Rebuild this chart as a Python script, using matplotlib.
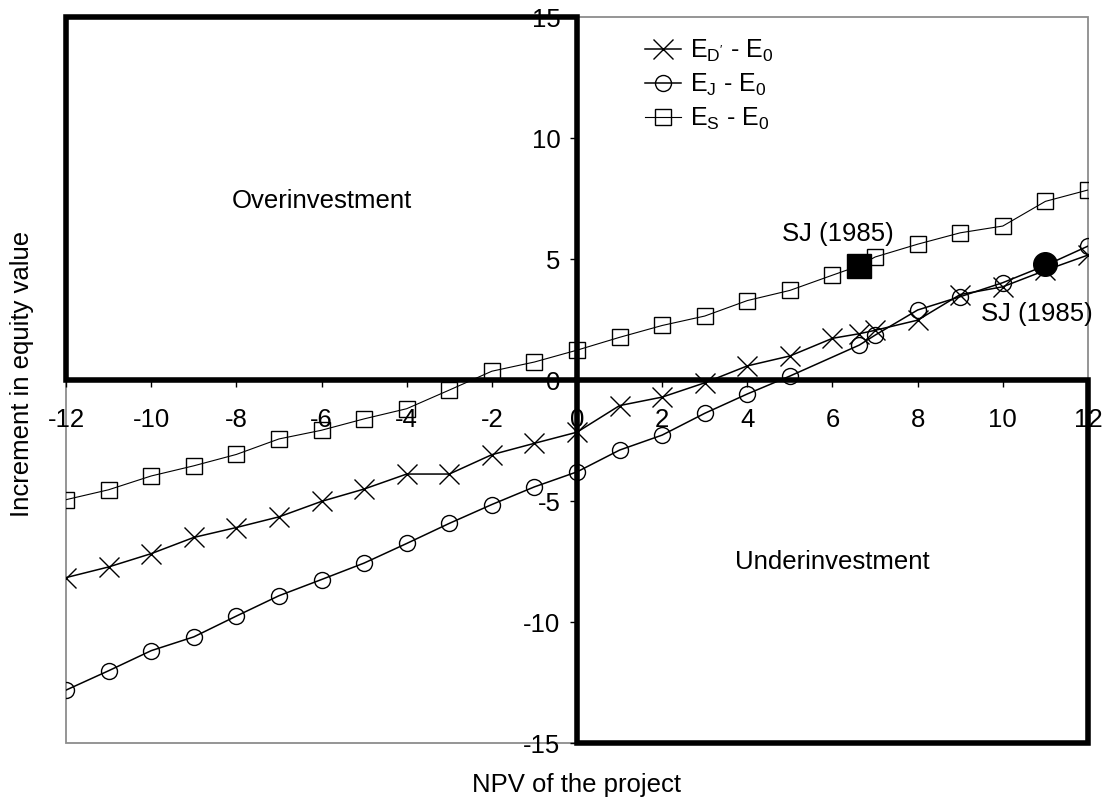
import matplotlib
matplotlib.use("Agg")
import matplotlib.pyplot as plt
from matplotlib.patches import Rectangle

plt.rcParams["font.family"] = ["Liberation Sans", "DejaVu Sans"]
plt.rcParams["mathtext.fontset"] = "custom"
plt.rcParams["mathtext.rm"] = "Liberation Sans"
plt.rcParams["mathtext.it"] = "Liberation Sans"
plt.rcParams["axes.unicode_minus"] = False

# --- data ---
x_d = [-12, -11, -10, -9, -8, -7, -6, -5, -4, -3, -2, -1, 0, 1, 2, 3, 4, 5,
       6, 6.63, 7, 8, 9, 10, 11, 12]
e_d = [-8.15, -7.71, -7.16, -6.49, -6.08, -5.64, -5.00, -4.49, -3.87, -3.87,
       -3.07, -2.60, -2.14, -1.04, -0.69, -0.10, 0.60, 1.01, 1.74, 1.93, 2.07,
       2.49, 3.55, 3.87, 4.55, 5.18]

x_j = [-12, -11, -10, -9, -8, -7, -6, -5, -4, -3, -2, -1, 0, 1, 2, 3, 4, 5,
       6.63, 7, 8, 9, 10, 11, 12]
e_j = [-12.80, -12.00, -11.17, -10.60, -9.74, -8.90, -8.23, -7.55, -6.74,
       -5.91, -5.13, -4.40, -3.78, -2.88, -2.26, -1.36, -0.56, 0.18, 1.46,
       1.87, 2.91, 3.46, 4.04, 4.75, 5.55]

x_s = [-12, -11, -10, -9, -8, -7, -6, -5, -4, -3, -2, -1, 0, 1, 2, 3, 4, 5,
       6, 6.63, 7, 8, 9, 10, 11, 12]
e_s = [-4.93, -4.52, -3.95, -3.53, -3.06, -2.42, -2.06, -1.59, -1.17, -0.40,
       0.38, 0.76, 1.25, 1.78, 2.27, 2.66, 3.30, 3.72, 4.35, 4.74, 5.10, 5.63,
       6.10, 6.38, 7.40, 7.87]

# SJ (1985) reference points
sj_sq = (6.63, 4.74)
sj_ci = (11.0, 4.81)

x_ticks = list(range(-12, 13, 2))
y_ticks = list(range(-15, 16, 5))

GREY = "#8c8c8c"
FS = 18.5

fig = plt.figure(figsize=(11.04, 8.05), dpi=100)
ax = fig.add_axes([0.0598, 0.0766, 0.9257, 0.9017])
ax.set_xlim(-12, 12)
ax.set_ylim(-15, 15)

ax.plot(x_d, e_d, color="black", lw=1.1, marker="x", ms=14, mew=1.0,
        label=r"E$_{\mathrm{D'}}$ - E$_0$", zorder=4)
ax.plot(x_j, e_j, color="black", lw=1.1, marker="o", ms=11.5, mew=1.0,
        mfc="none", label=r"E$_\mathrm{J}$ - E$_0$", zorder=4)
ax.plot(x_s, e_s, color="black", lw=0.8, marker="s", ms=11, mew=1.0,
        mfc="none", label=r"E$_\mathrm{S}$ - E$_0$", zorder=4)

ax.plot(*sj_sq, marker="s", ms=17, color="black", zorder=5)
ax.plot(*sj_ci, marker="o", ms=17, color="black", zorder=5)
ax.text(sj_sq[0] - 0.5, sj_sq[1] + 1.3, "SJ (1985)", ha="center", va="center",
        fontsize=FS)
ax.text(sj_ci[0] - 0.2, sj_ci[1] - 2.05, "SJ (1985)", ha="center", va="center",
        fontsize=FS)

# quadrant boxes
ax.add_patch(Rectangle((-12, 0), 12, 15, fill=False, ec="black", lw=4,
                       clip_on=False, zorder=3))
ax.add_patch(Rectangle((0, -15), 12, 15, fill=False, ec="black", lw=4,
                       clip_on=False, zorder=3))
ax.text(-6.0, 7.4, "Overinvestment", ha="center", va="center", fontsize=FS)
ax.text(6.0, -7.5, "Underinvestment", ha="center", va="center", fontsize=FS)

# axes crossing at zero, grey plot-area frame
for s in ["top", "right"]:
    ax.spines[s].set_visible(False)
ax.spines["bottom"].set_position(("data", 0))
ax.spines["left"].set_position(("data", 0))
ax.add_patch(Rectangle((0, 0), 1, 1, transform=ax.transAxes, fill=False,
                       ec=GREY, lw=1.3, clip_on=False, zorder=1))

ax.set_xticks(x_ticks)
ax.set_yticks(y_ticks)
ax.tick_params(axis="x", direction="out", length=5, width=1, pad=15,
               labelsize=FS)
ax.tick_params(axis="y", direction="out", length=5, width=1, pad=7,
               labelsize=FS)

fig.text(577 / 1104, 1 - 785 / 805, "NPV of the project", ha="center",
         va="center", fontsize=FS)
fig.text(22 / 1104, 1 - 374 / 805, "Increment in equity value", ha="center",
         va="center", rotation=90, fontsize=FS)

ax.legend(loc="upper left", bbox_to_anchor=(645 / 1104, 1 - 38 / 805),
          bbox_transform=fig.transFigure, frameon=False, fontsize=18,
          handlelength=1.45, handletextpad=0.35, labelspacing=0.3,
          borderpad=0, borderaxespad=0)

fig.savefig("out.png", dpi=100, facecolor="white")
